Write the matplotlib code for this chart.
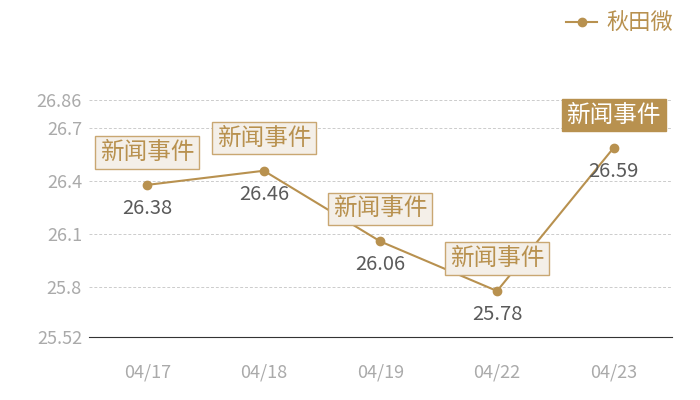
import matplotlib.pyplot as plt

plt.rcParams['font.family'] = ['Noto Sans CJK SC', 'DejaVu Sans']

dates = ["04/17", "04/18", "04/19", "04/22", "04/23"]
prices = [26.38, 26.46, 26.06, 25.78, 26.59]
yticks = [25.52, 25.8, 26.1, 26.4, 26.7, 26.86]
event_text = "新闻事件"
series_name = "秋田微"

gold = "#b8914f"

fig = plt.figure(figsize=(7, 4), dpi=100)
ax = fig.add_axes([0.127, 0.1575, 0.833, 0.5925])

x = list(range(len(dates)))
ax.plot(x, prices, color=gold, lw=1.5, marker="o", ms=6, label=series_name, zorder=3)

ax.set_xlim(-0.5, len(dates) - 0.5)
ax.set_ylim(yticks[0], yticks[-1])
ax.set_yticks(yticks)
ax.set_yticklabels([f"{v:g}" for v in yticks])
ax.set_xticks(x)
ax.set_xticklabels(dates)
ax.tick_params(length=0, colors="#aaaaaa", labelsize=13)
ax.tick_params(axis="x", pad=19)
ax.tick_params(axis="y", pad=5)
ax.grid(axis="y", color="#cccccc", ls=(0, (3, 2)), lw=0.7)
for s in ["top", "right", "left"]:
    ax.spines[s].set_visible(False)
ax.spines["bottom"].set_color("#333333")

for i, v in enumerate(prices):
    ax.annotate(f"{v:.2f}", (i, v), xytext=(0, -13), textcoords="offset pixels",
                ha="center", va="top", fontsize=14.5, color="#5a5a5a")
    last = i == len(prices) - 1
    ax.annotate(event_text, (i, v), xytext=(0, 21), textcoords="offset pixels",
                ha="center", va="bottom", fontsize=17,
                color="white" if last else gold,
                bbox=dict(boxstyle="square,pad=0.2",
                          fc=gold if last else "#f4efe8",
                          ec=gold if last else "#c9a772", lw=1),
                zorder=4)

fig.legend(loc="upper right", bbox_to_anchor=(0.99, 1.02), frameon=False,
           fontsize=16, labelcolor=gold, handlelength=1.4, handletextpad=0.4)

fig.savefig("out.png")
